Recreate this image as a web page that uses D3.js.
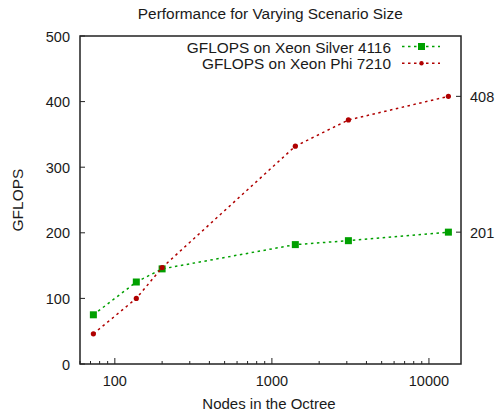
<!DOCTYPE html>
<html>
<head>
<meta charset="utf-8">
<script src="https://cdn.jsdelivr.net/npm/d3@7"></script>
<style>
  body { margin: 0; background: #fff; }
  svg { font-family: 'Liberation Sans', Arial, sans-serif; fill: #1a1a1a; }
</style>
</head>
<body>
<script>
const nodes = [73, 137, 200, 1410, 3070, 13300];
const silver = [75, 125, 145, 182, 188, 201];
const phi = [46, 100, 147, 332, 372, 408];
const seriesNames = ['GFLOPS on Xeon Silver 4116', 'GFLOPS on Xeon Phi 7210'];
const yTicks = [0, 100, 200, 300, 400, 500];
const xTicks = [100, 1000, 10000];

const width = 497, height = 411;
const plotLeft = 80, plotRight = 461, plotTop = 36, plotBottom = 364;

const svg = d3.select('body').append('svg')
    .attr('width', width)
    .attr('height', height);

const x = d3.scaleLog().domain([60, 16000]).range([plotLeft, plotRight]);
const y = d3.scaleLinear().domain([0, 500]).range([plotBottom, plotTop]);

// minor ticks on x
const minor = [];
[10, 100, 1000, 10000].forEach(dec => {
    for (let k = 2; k <= 9; k++) {
        const v = dec * k;
        if (v >= 60 && v <= 16000) minor.push(v);
    }
});

svg.append('g').selectAll('line')
    .data(minor)
    .enter()
    .append('line')
    .attr('x1', d => x(d)).attr('x2', d => x(d))
    .attr('y1', plotBottom).attr('y2', plotBottom - 3)
    .attr('stroke', '#222').attr('stroke-width', 1);

svg.append('g').selectAll('line')
    .data(xTicks)
    .enter()
    .append('line')
    .attr('x1', d => x(d)).attr('x2', d => x(d))
    .attr('y1', plotBottom).attr('y2', plotBottom - 6)
    .attr('stroke', '#222').attr('stroke-width', 1);

svg.append('g').selectAll('text')
    .data(xTicks)
    .enter()
    .append('text')
    .attr('x', d => x(d))
    .attr('y', 385.5)
    .attr('text-anchor', 'middle')
    .style('font-size', '14.5px')
    .text(d => d);

// left y ticks
svg.append('g').selectAll('line')
    .data(yTicks)
    .enter()
    .append('line')
    .attr('x1', plotLeft).attr('x2', plotLeft + 5)
    .attr('y1', d => y(d)).attr('y2', d => y(d))
    .attr('stroke', '#222').attr('stroke-width', 1);

svg.append('g').selectAll('text')
    .data(yTicks)
    .enter()
    .append('text')
    .attr('x', plotLeft - 10)
    .attr('y', d => y(d) + 5.5)
    .attr('text-anchor', 'end')
    .style('font-size', '14.5px')
    .text(d => d);

// right y2 ticks at final values
const y2Ticks = [silver[silver.length - 1], phi[phi.length - 1]];
svg.append('g').selectAll('line')
    .data(y2Ticks)
    .enter()
    .append('line')
    .attr('x1', plotRight - 5).attr('x2', plotRight)
    .attr('y1', d => y(d)).attr('y2', d => y(d))
    .attr('stroke', '#222').attr('stroke-width', 1);

svg.append('g').selectAll('text')
    .data(y2Ticks)
    .enter()
    .append('text')
    .attr('x', plotRight + 9)
    .attr('y', d => y(d) + 5.5)
    .style('font-size', '14.5px')
    .text(d => d);

// frame
svg.append('rect')
    .attr('x', plotLeft).attr('y', plotTop)
    .attr('width', plotRight - plotLeft).attr('height', plotBottom - plotTop)
    .attr('fill', 'none')
    .attr('stroke', '#222')
    .attr('stroke-width', 1.5);

const line = d3.line().x(d => x(d[0])).y(d => y(d[1]));

const series = [
    { name: seriesNames[0], values: silver, color: '#00a000', shape: 'square' },
    { name: seriesNames[1], values: phi, color: '#b00000', shape: 'circle' }
];

series.forEach(s => {
    const pts = nodes.map((n, i) => [n, s.values[i]]);
    svg.append('path')
        .datum(pts)
        .attr('d', line)
        .attr('fill', 'none')
        .attr('stroke', s.color)
        .attr('stroke-width', 1.5)
        .attr('stroke-dasharray', '2.5,3.5');
    if (s.shape === 'square') {
        svg.append('g').selectAll('rect')
            .data(pts)
            .enter()
            .append('rect')
            .attr('x', d => x(d[0]) - 3.5)
            .attr('y', d => y(d[1]) - 3.5)
            .attr('width', 7).attr('height', 7)
            .attr('fill', s.color);
    } else {
        svg.append('g').selectAll('circle')
            .data(pts)
            .enter()
            .append('circle')
            .attr('cx', d => x(d[0]))
            .attr('cy', d => y(d[1]))
            .attr('r', 2.6)
            .attr('fill', s.color);
    }
});

// legend
const legend = svg.append('g');
series.forEach((s, i) => {
    const ly = 46.5 + i * 16.7;
    legend.append('text')
        .attr('x', 391).attr('y', ly + 6)
        .attr('text-anchor', 'end')
        .style('font-size', '15.4px')
        .text(s.name);
    legend.append('line')
        .attr('x1', 402).attr('x2', 440)
        .attr('y1', ly).attr('y2', ly)
        .attr('stroke', s.color)
        .attr('stroke-width', 1.5)
        .attr('stroke-dasharray', '2.5,3.5');
    if (s.shape === 'square') {
        legend.append('rect')
            .attr('x', 421.5 - 3.5).attr('y', ly - 3.5)
            .attr('width', 7).attr('height', 7)
            .attr('fill', s.color);
    } else {
        legend.append('circle')
            .attr('cx', 421.5).attr('cy', ly)
            .attr('r', 2.2)
            .attr('fill', s.color);
    }
});

// titles
svg.append('text')
    .attr('x', 270.3).attr('y', 18.5)
    .attr('text-anchor', 'middle')
    .style('font-size', '15.4px')
    .text('Performance for Varying Scenario Size');

svg.append('text')
    .attr('x', 269).attr('y', 408.5)
    .attr('text-anchor', 'middle')
    .style('font-size', '15px')
    .text('Nodes in the Octree');

svg.append('text')
    .attr('transform', 'translate(22.7,200) rotate(-90)')
    .attr('text-anchor', 'middle')
    .style('font-size', '15.5px')
    .text('GFLOPS');
</script>
</body>
</html>
